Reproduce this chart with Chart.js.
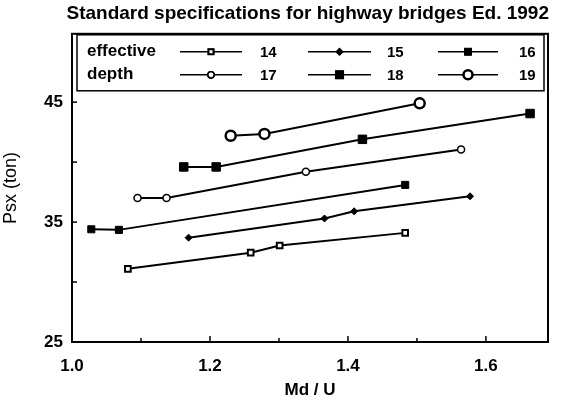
<!DOCTYPE html>
<html>
<head>
<meta charset="utf-8">
<script src="https://cdn.jsdelivr.net/npm/chart.js@4.4.0/dist/chart.umd.min.js"></script>
<style>
  html, body { margin: 0; padding: 0; background: #fff; }
  #wrap { width: 562px; height: 403px; }
</style>
</head>
<body>
<div id="wrap"><canvas id="psxChart" width="562" height="403"></canvas></div>
<script>
// effective depth series, Md/U vs Psx (ton)
const depths = ['14', '15', '16', '17', '18', '19'];
const mdU14 = [1.081, 1.259, 1.301, 1.483];
const psx14 = [31.1, 32.45, 33.05, 34.1];
const mdU15 = [1.169, 1.366, 1.409, 1.577];
const psx15 = [33.7, 35.3, 35.9, 37.15];
const mdU16 = [1.028, 1.068, 1.483];
const psx16 = [34.4, 34.35, 38.1];
const mdU17 = [1.095, 1.137, 1.339, 1.564];
const psx17 = [37.0, 37.0, 39.2, 41.05];
const mdU18 = [1.162, 1.209, 1.421, 1.664];
const psx18 = [39.6, 39.6, 41.9, 44.05];
const mdU19 = [1.230, 1.279, 1.504];
const psx19 = [42.2, 42.35, 44.9];
const xLabels = ['1.0', '1.2', '1.4', '1.6'];
const yLabels = ['25', '35', '45'];

const FONT = 'Liberation Sans, Arial, sans-serif';

// marker look per series
const markers = {
    '14': { pointStyle: 'rect', pointRadius: 4, pointBackgroundColor: '#fff', pointBorderWidth: 2 },
    '15': { pointStyle: 'rectRot', pointRadius: 3.5, pointBackgroundColor: '#000', pointBorderWidth: 1 },
    '16': { pointStyle: 'rect', pointRadius: 5, pointBackgroundColor: '#000', pointBorderWidth: 1 },
    '17': { pointStyle: 'circle', pointRadius: 3.5, pointBackgroundColor: '#fff', pointBorderWidth: 1.5 },
    '18': { pointStyle: 'rect', pointRadius: 6, pointBackgroundColor: '#000', pointBorderWidth: 1 },
    '19': { pointStyle: 'circle', pointRadius: 5, pointBackgroundColor: '#fff', pointBorderWidth: 2.5 }
};

function toPoints(xs, ys) {
    return xs.map((x, i) => ({ x: x, y: ys[i] }));
}

const seriesData = {
    '14': toPoints(mdU14, psx14),
    '15': toPoints(mdU15, psx15),
    '16': toPoints(mdU16, psx16),
    '17': toPoints(mdU17, psx17),
    '18': toPoints(mdU18, psx18),
    '19': toPoints(mdU19, psx19)
};

const datasets = depths.map(d => Object.assign({
    label: d,
    data: seriesData[d],
    borderColor: '#000',
    borderWidth: 2,
    pointBorderColor: '#000',
    showLine: true,
    tension: 0
}, markers[d]));

// box around plot, inward ticks, and the boxed legend in the top of the plot
const framePlugin = {
    id: 'frame',
    afterDraw(chart) {
        const ctx = chart.ctx;
        const a = chart.chartArea;
        const xs = chart.scales.x;
        const ys = chart.scales.y;
        ctx.save();
        ctx.strokeStyle = '#000';
        ctx.lineWidth = 2;
        ctx.strokeRect(a.left, a.top, a.right - a.left, a.bottom - a.top);

        ctx.lineWidth = 1.5;
        xs.ticks.forEach(t => {
            const px = xs.getPixelForValue(t.value);
            const major = Math.round(t.value * 10) % 2 === 0;
            const len = major ? 6 : 4;
            ctx.beginPath();
            ctx.moveTo(px, a.bottom);
            ctx.lineTo(px, a.bottom - len);
            ctx.stroke();
        });
        ys.ticks.forEach(t => {
            if (t.value > 46) return;
            const py = ys.getPixelForValue(t.value);
            ctx.beginPath();
            ctx.moveTo(a.left, py);
            ctx.lineTo(a.left + 5, py);
            ctx.stroke();
        });

        // legend box
        const bx = a.left + 5, by = a.top + 1, bw = a.right - a.left - 9, bh = 56;
        ctx.fillStyle = '#fff';
        ctx.fillRect(bx, by, bw, bh);
        ctx.lineWidth = 1.5;
        ctx.strokeRect(bx, by, bw, bh);

        ctx.fillStyle = '#000';
        ctx.font = 'bold 17px ' + FONT;
        ctx.textBaseline = 'middle';
        ctx.textAlign = 'left';
        const row1 = by + 17, row2 = by + 40;
        ctx.fillText('effective', bx + 10, row1);
        ctx.fillText('depth', bx + 10, row2);

        const cols = [
            { x0: 180, x1: 242, lx: 260, items: ['14', '17'] },
            { x0: 308, x1: 371, lx: 387, items: ['15', '18'] },
            { x0: 438, x1: 498, lx: 519, items: ['16', '19'] }
        ];
        cols.forEach(c => {
            c.items.forEach((d, r) => {
                const yy = r === 0 ? row1 : row2;
                const m = markers[d];
                ctx.lineWidth = 1.5;
                ctx.beginPath();
                ctx.moveTo(c.x0, yy);
                ctx.lineTo(c.x1, yy);
                ctx.stroke();
                Chart.helpers.drawPoint(ctx, {
                    pointStyle: m.pointStyle,
                    radius: m.pointRadius * 0.9,
                    borderWidth: m.pointBorderWidth,
                    rotation: 0
                }, (c.x0 + c.x1) / 2, yy);
                ctx.fillStyle = m.pointBackgroundColor;
                ctx.strokeStyle = '#000';
                ctx.lineWidth = m.pointBorderWidth;
                ctx.fill();
                ctx.stroke();
                ctx.fillStyle = '#000';
                ctx.font = 'bold 15px ' + FONT;
                ctx.fillText(d, c.lx, yy + 1);
            });
        });
        ctx.restore();
    }
};

const ctx = document.getElementById('psxChart').getContext('2d');
new Chart(ctx, {
    type: 'scatter',
    data: { datasets: datasets },
    options: {
        responsive: false,
        animation: false,
        layout: { padding: { left: 0, right: 13, top: 2, bottom: 0 } },
        plugins: {
            legend: { display: false },
            tooltip: { enabled: false },
            title: {
                display: true,
                text: 'Standard specifications for highway bridges Ed. 1992',
                color: '#000',
                align: 'end',
                font: { family: FONT, size: 19, weight: 'bold' },
                padding: { top: 0, bottom: 9 }
            }
        },
        scales: {
            x: {
                type: 'linear',
                min: 1.0,
                max: 1.69,
                grid: { display: false, drawTicks: false },
                border: { display: false },
                afterFit(scale) { scale.height = 61; },
                ticks: {
                    stepSize: 0.1,
                    padding: 14,
                    color: '#000',
                    font: { family: FONT, size: 17, weight: 'bold' },
                    autoSkip: false,
                    maxRotation: 0,
                    callback(v) {
                        const s = v.toFixed(1);
                        return xLabels.includes(s) ? s : '';
                    }
                },
                title: {
                    display: true,
                    text: 'Md / U',
                    color: '#000',
                    font: { family: FONT, size: 17, weight: 'bold' },
                    padding: { top: 0, bottom: 2 }
                }
            },
            y: {
                type: 'linear',
                min: 25,
                max: 50.7,
                grid: { display: false, drawTicks: false },
                border: { display: false },
                afterFit(scale) { scale.width = 72; },
                ticks: {
                    stepSize: 5,
                    padding: 9,
                    color: '#000',
                    font: { family: FONT, size: 17, weight: 'bold' },
                    autoSkip: false,
                    callback(v) {
                        const s = String(v);
                        return yLabels.includes(s) ? s : '';
                    }
                },
                title: {
                    display: true,
                    text: 'Psx (ton)',
                    color: '#000',
                    font: { family: FONT, size: 18 },
                    padding: { top: 0, bottom: 2 }
                }
            }
        }
    },
    plugins: [framePlugin]
});
</script>
</body>
</html>
